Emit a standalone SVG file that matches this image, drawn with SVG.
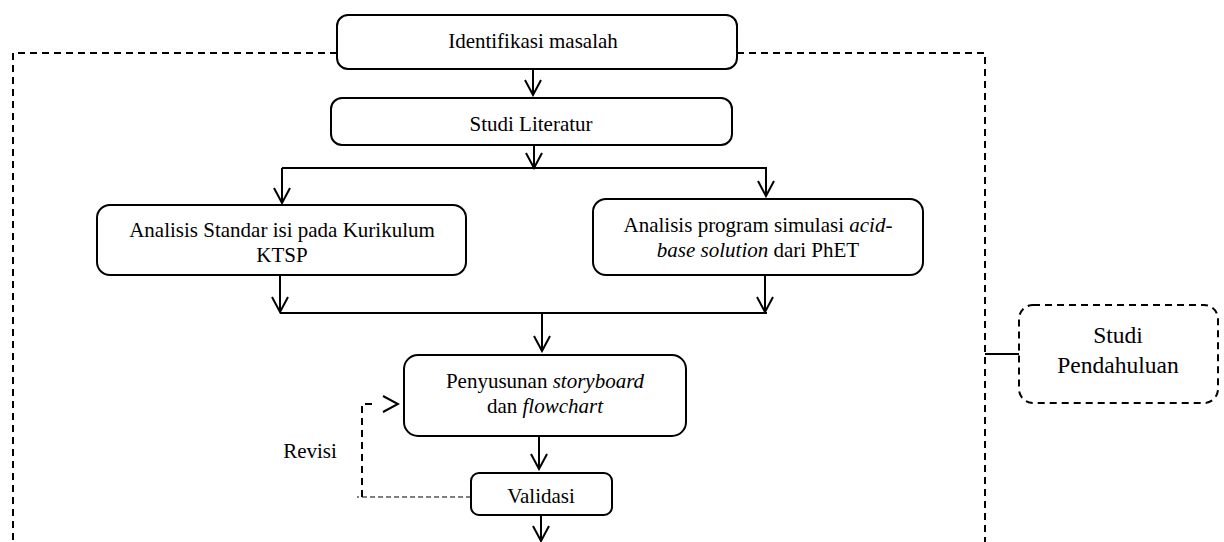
<svg xmlns="http://www.w3.org/2000/svg" width="1224" height="542" viewBox="0 0 1224 542">
<defs>
<style>
.box{fill:#fff;stroke:#000;stroke-width:2}
.dbox{fill:#fff;stroke:#000;stroke-width:2;stroke-dasharray:7 5}
.ln{fill:none;stroke:#000;stroke-width:2}
.dash{fill:none;stroke:#000;stroke-width:2;stroke-dasharray:7 5}
.thin{fill:none;stroke:#000;stroke-width:1.2;stroke-dasharray:5 3}
text{font-family:"Liberation Serif","Times New Roman",serif;font-size:21px;fill:#000;text-anchor:middle}
.big{font-size:23.5px}
</style>
<marker id="ah" viewBox="0 0 18 18" refX="16" refY="9" markerWidth="18" markerHeight="18" orient="auto" markerUnits="userSpaceOnUse">
<path d="M1,1 L16,9 L1,17" fill="none" stroke="#000" stroke-width="2"/>
</marker>
</defs>
<rect width="1224" height="542" fill="#fff"/>
<g id="connectors">
<path class="dash" d="M337,53 H13 V542"/>
<path class="dash" d="M737,53 H985 V542"/>
<path class="ln" d="M985,354 H1019"/>
<line class="ln" x1="533" y1="69" x2="533" y2="95" marker-end="url(#ah)"/>
<line class="ln" x1="534" y1="145" x2="534" y2="168" marker-end="url(#ah)"/>
<path class="ln" d="M282,168 H767"/>
<line class="ln" x1="282" y1="168" x2="282" y2="203" marker-end="url(#ah)"/>
<line class="ln" x1="766" y1="168" x2="766" y2="196" marker-end="url(#ah)"/>
<line class="ln" x1="280" y1="275" x2="280" y2="312" marker-end="url(#ah)"/>
<line class="ln" x1="765" y1="275" x2="765" y2="312" marker-end="url(#ah)"/>
<path class="ln" d="M280,313 H767"/>
<line class="ln" x1="542" y1="313" x2="542" y2="351" marker-end="url(#ah)"/>
<line class="ln" x1="539" y1="436" x2="539" y2="469" marker-end="url(#ah)"/>
<line class="ln" x1="541" y1="515" x2="541" y2="541" marker-end="url(#ah)"/>
<path class="thin" d="M471,497 H357"/>
<path class="dash" d="M362,497 V404 H372"/>
<line class="ln" x1="380" y1="404" x2="398" y2="404" stroke-dasharray="0 18" marker-end="url(#ah)"/>
<text x="310" y="458">Revisi</text>
</g>
<g id="identifikasi">
<rect class="box" x="337" y="15" width="400" height="54" rx="11"/>
<text x="533" y="48">Identifikasi masalah</text>
</g>
<g id="studi-literatur">
<rect class="box" x="331" y="98" width="401" height="47" rx="11"/>
<text x="531" y="131">Studi Literatur</text>
</g>
<g id="analisis-standar">
<rect class="box" x="97" y="205" width="369" height="70" rx="13"/>
<text x="282" y="237">Analisis Standar isi pada Kurikulum</text>
<text x="282" y="262">KTSP</text>
</g>
<g id="analisis-program">
<rect class="box" x="593" y="199" width="330" height="76" rx="13"/>
<text x="758" y="232">Analisis program simulasi <tspan font-style="italic">acid-</tspan></text>
<text x="758" y="257"><tspan font-style="italic">base solution</tspan> dari PhET</text>
</g>
<g id="penyusunan">
<rect class="box" x="404" y="355" width="282" height="81" rx="14"/>
<text x="545" y="388">Penyusunan <tspan font-style="italic">storyboard</tspan></text>
<text x="545" y="413">dan <tspan font-style="italic">flowchart</tspan></text>
</g>
<g id="validasi">
<rect class="box" x="471" y="473" width="141" height="42" rx="8"/>
<text x="541" y="503">Validasi</text>
</g>
<g id="studi-pendahuluan">
<rect class="dbox" x="1019" y="305" width="199" height="98" rx="14"/>
<text class="big" x="1118" y="343">Studi</text>
<text class="big" x="1118" y="373">Pendahuluan</text>
</g>
</svg>
